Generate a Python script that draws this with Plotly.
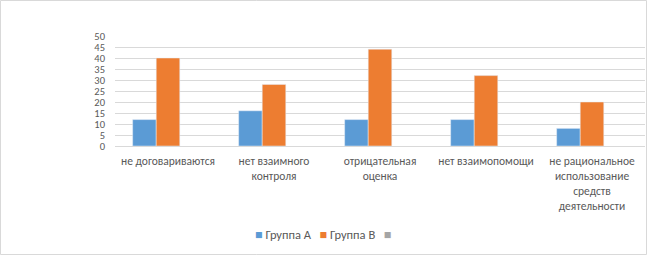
import plotly.graph_objects as go

categories = ["не договариваются", "нет взаимного<br>контроля", "отрицательная<br>оценка",
              "нет взаимопомощи", "не рациональное<br>использование<br>средств<br>деятельности"]
group_a = [12, 16, 12, 12, 8]
group_b = [40, 28, 44, 32, 20]
group_c = [None, None, None, None, None]
series_names = ["Группа А", "Группа В", ""]
colors = ["#5b9bd5", "#ed7d31", "#a5a5a5"]
y_ticks = [0, 5, 10, 15, 20, 25, 30, 35, 40, 45, 50]

FONT = "Carlito, Liberation Sans Narrow, Liberation Sans, Arial, sans-serif"

fig = go.Figure()
for vals, name, col in zip([group_a, group_b, group_c], series_names, colors):
    fig.add_trace(go.Bar(x=categories, y=vals, name=name, marker_color=col, showlegend=False))

legend_text = "   ".join(
    f"<span style='color:{c}'>■</span> {n}" if n else f"<span style='color:{c}'>■</span>"
    for n, c in zip(series_names, colors)
)

fig.update_layout(
    width=647, height=255,
    margin=dict(l=115, r=2, t=36, b=109, autoexpand=False),
    paper_bgcolor="white", plot_bgcolor="white",
    barmode="group", bargap=1/3, bargroupgap=0,
    font=dict(family=FONT, size=11.5, color="#595959"),
    xaxis=dict(showline=True, linecolor="#d9d9d9", ticks="", tickfont=dict(size=11.5),
               ticklabelstandoff=4, automargin=False),
    yaxis=dict(range=[0, 50], tickvals=y_ticks, showgrid=True, gridcolor="#d9d9d9",
               zeroline=False, ticks="", tickfont=dict(size=10.5), ticklabelstandoff=9,
               automargin=False),
    annotations=[dict(text=legend_text, xref="paper", yref="paper",
                      x=(323 - 115) / 530, y=(146 - 234) / 110,
                      xanchor="center", yanchor="middle", showarrow=False,
                      font=dict(family=FONT, size=12.5, color="#595959"))],
    shapes=[dict(type="rect", xref="paper", yref="paper", x0=-114.5/530, x1=1+1.5/530,
                 y0=-108.5/110, y1=1+35.5/110, line=dict(color="#d9d9d9", width=1))],
)
fig.write_html("out.html", config={"displayModeBar": False},
               post_script="document.body.style.margin='0';")
